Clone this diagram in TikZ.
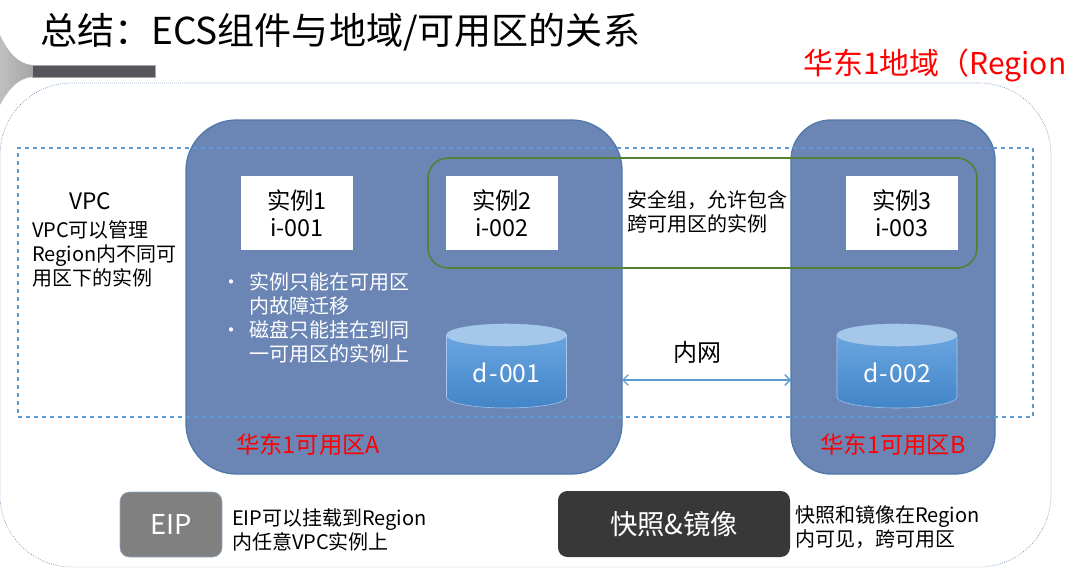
\documentclass[tikz,border=0pt]{standalone}
\usepackage{fontspec}
\setmainfont{Noto Sans CJK SC}
\usetikzlibrary{arrows.meta,positioning}
\definecolor{zoneblue}{RGB}{107,134,181}
\definecolor{zoneedge}{RGB}{80,120,170}
\definecolor{vpcblue}{RGB}{91,155,213}
\definecolor{sgreen}{RGB}{84,130,53}
\definecolor{bargray}{RGB}{85,86,92}
\definecolor{regionred}{RGB}{255,0,0}
\definecolor{disktop}{RGB}{165,200,234}
\definecolor{diskhigh}{RGB}{106,165,224}
\definecolor{disklow}{RGB}{66,133,200}
\newcommand{\px}{0.75pt}
\tikzset{
  zonebox/.style={draw=zoneedge,fill=zoneblue,line width=1pt,inner sep=0pt,outer sep=0pt},
  instbox/.style={fill=white,minimum width=112*\px,minimum height=74*\px,inner sep=0pt,align=center,font=\fontsize{17.5}{20}\selectfont},
  plain/.style={inner sep=0pt,outer sep=0pt,anchor=west,align=left,font=\fontsize{15}{18}\selectfont},
  redlabel/.style={inner sep=0pt,text=regionred,font=\fontsize{17.5}{20}\selectfont},
  tagbox/.style={rounded corners=7pt,text=white,inner sep=0pt,outer sep=0pt,font=\fontsize{20.5}{24}\selectfont},
}

\begin{document}
\begin{tikzpicture}[x=0.75pt,y=-0.75pt]
    \useasboundingbox (0,0) rectangle (1067,578);
    \shade[left color=gray!50,right color=gray!70] (0,35) .. controls (8,52) and (18,64) .. (32,65) -- (32,77) .. controls (18,78) and (8,90) .. (0,105) -- cycle;
    \node[fill=bargray,draw=gray!70,line width=.4pt,minimum width=123*\px,minimum height=12*\px,inner sep=0pt] (bar) at (93.5,71) {};
    \node[plain,font=\fontsize{27.8}{33}\selectfont] (title) at (40,32) {总结：ECS组件与地域/可用区的关系};
    \node[plain,text=regionred,font=\fontsize{22.5}{27}\selectfont] (regionname) at (803,65) {华东1地域（Region};
    \node[draw=zoneedge!90,densely dotted,line width=.5pt,rounded corners=54pt,minimum width=1051*\px,minimum height=484*\px,inner sep=0pt] (region) at (525.5,325) {};

    \node[zonebox,rounded corners=38pt,minimum width=436*\px,minimum height=354*\px] (zonea) at (404,297) {};
    \node[zonebox,rounded corners=30pt,minimum width=204*\px,minimum height=354*\px] (zoneb) at (893,297) {};
    \node[draw=vpcblue,dashed,line width=1pt,minimum width=1015*\px,minimum height=269*\px,inner sep=0pt] (vpc) at (525.5,282.5) {};

    \foreach \n/\x in {1/297,2/502,3/902}
    {
      \node[instbox] (inst\n) at (\x,213) {实例\n\\i-00\n};
    }
    \node[draw=sgreen,line width=1.2pt,rounded corners=15pt,minimum width=549*\px,minimum height=110*\px,inner sep=0pt] (secgroup) at (702.5,213) {};

    \foreach \n/\x in {1/506.5,2/897}
    {
      \shade[top color=diskhigh,bottom color=disklow,draw=disktop,line width=.4pt] (\x-60,335) -- (\x-60,397) arc[start angle=180,end angle=0,x radius=60,y radius=11] -- (\x+60,335) -- cycle;
      \fill[fill=disktop,draw=disktop,line width=.4pt] (\x,335) ellipse[x radius=60,y radius=11];
      \node[text=white,inner sep=0pt,font=\fontsize{18.5}{22}\selectfont] (disk\n) at (\x,373) {d\hspace{1pt}-\hspace{1pt}00\n};
    }

    \node[plain,font=\fontsize{17}{20}\selectfont] (vpcname) at (69,201) {VPC};
    \node[plain] (vpcnote) at (32,254) {VPC可以管理\\Region内不同可\\用区下的实例};
    \node[plain,text=white] (notes) at (227,318) {\makebox[17pt][l]{\hspace{-4pt}•}实例只能在可用区\\\hspace*{17pt}内故障迁移\\\makebox[17pt][l]{\hspace{-4pt}•}磁盘只能挂在到同\\\hspace*{17pt}一可用区的实例上};
    \node[plain] (sgnote) at (627,212) {安全组，允许包含\\跨可用区的实例};

    \node[plain,anchor=center,font=\fontsize{18}{20}\selectfont] (lan) at (697,352) {内网};
    \coordinate (lanrow) at (697,380);
    \draw[{Straight Barb[length=4pt]}-{Straight Barb[length=4pt]},draw=vpcblue,line width=1pt] (zonea.east |- lanrow) -- (zoneb.west |- lanrow);

    \node[redlabel] (zonealabel) at (308,445) {华东1可用区A};
    \node[redlabel] (zoneblabel) at (893,445) {华东1可用区B};

    \node[tagbox,draw=zoneedge!60,fill=gray,minimum width=102*\px,minimum height=65*\px] (eip) at (171,524.5) {EIP};
    \node[plain,right=10*\px of eip,yshift=-4pt] (eipnote) {EIP可以挂载到Region\\内任意VPC实例上};
    \node[tagbox,fill=black!78,minimum width=232*\px,minimum height=66*\px] (snap) at (674,524) {快照\&镜像};
    \node[plain,right=5*\px of snap,yshift=-2pt] (snapnote) {快照和镜像在Region\\内可见，跨可用区};
\end{tikzpicture}
\end{document}
